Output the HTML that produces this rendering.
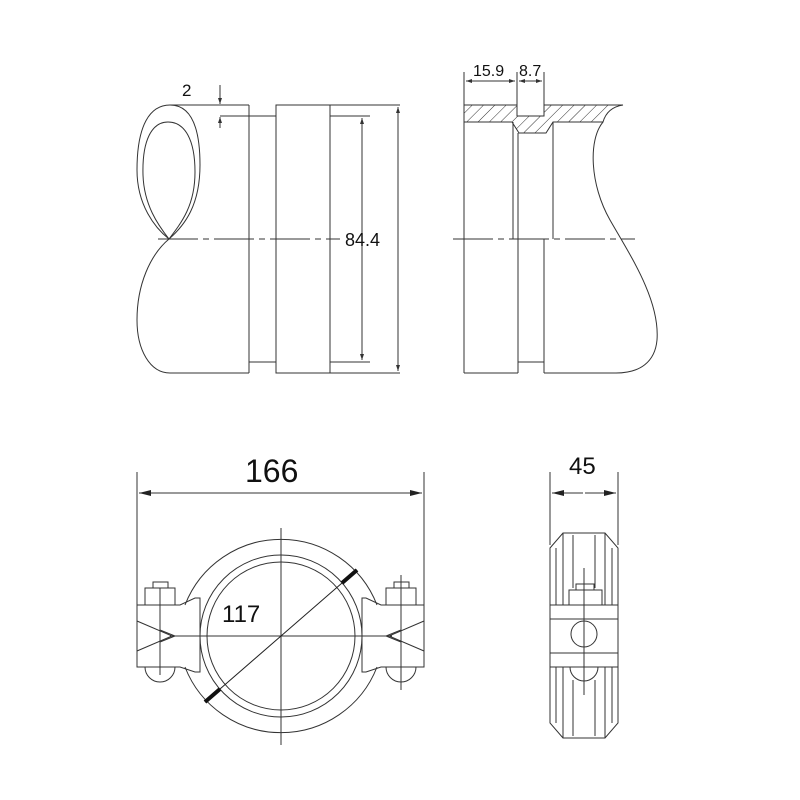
<!DOCTYPE html>
<html><head><meta charset="utf-8"><style>html,body{margin:0;padding:0;background:#fff}svg{display:block}</style></head>
<body>
<svg width="800" height="800" viewBox="0 0 800 800" xmlns="http://www.w3.org/2000/svg" fill="none" stroke="#333" stroke-width="1">
<defs>
<pattern id="h" width="8" height="8" patternUnits="userSpaceOnUse" patternTransform="rotate(45)"><line x1="0" y1="0" x2="0" y2="8" stroke="#333" stroke-width="1"/></pattern>
<marker id="a" markerWidth="12" markerHeight="6" refX="12" refY="3" orient="auto-start-reverse" markerUnits="userSpaceOnUse"><path d="M0,0 L12,3 L0,6 Z" fill="#222" stroke="none"/></marker>
<marker id="s" markerWidth="6" markerHeight="6" refX="6" refY="3" orient="auto-start-reverse" markerUnits="userSpaceOnUse"><path d="M0,1 L6,3 L0,5 Z" fill="#333" stroke="none"/></marker>
</defs>

<!-- TOP LEFT VIEW -->
<path d="M170,105 C150,105 137,125 137,170 C137,205 155,228 169,239 C185,225 200,205 200,165 C200,125 190,105 170,105 Z"/>
<path d="M168,122 C152,122 142,140 143,175 C144,205 158,225 169,239 C182,222 195,205 195,172 C195,140 185,122 168,122 Z"/>
<path d="M169,239 C150,255 137,285 137,320 C137,350 150,373 170,373"/>
<line x1="170" y1="105" x2="249" y2="105"/>
<line x1="170" y1="373" x2="249" y2="373"/>
<line x1="249" y1="105" x2="249" y2="373"/>
<line x1="220" y1="116" x2="276" y2="116"/>
<line x1="249" y1="362" x2="276" y2="362"/>
<rect x="276" y="105" width="54" height="268"/>
<line x1="330" y1="105" x2="400" y2="105"/>
<line x1="330" y1="373" x2="400" y2="373"/>
<line x1="330" y1="116" x2="370" y2="116"/>
<line x1="330" y1="362" x2="370" y2="362"/>
<line x1="398" y1="107" x2="398" y2="371" marker-start="url(#s)" marker-end="url(#s)"/>
<line x1="362" y1="118" x2="362" y2="360" marker-start="url(#s)" marker-end="url(#s)"/>
<line x1="220" y1="85" x2="220" y2="104" marker-end="url(#s)"/>
<line x1="220" y1="128" x2="220" y2="117" marker-end="url(#s)"/>
<line x1="158" y1="239" x2="340" y2="239" stroke-dasharray="40,5,6,5"/>
<text x="182" y="96" font-family="Liberation Sans, sans-serif" font-size="17" fill="#111" stroke="none">2</text>
<text x="345" y="246" font-family="Liberation Sans, sans-serif" font-size="18" fill="#111" stroke="none">84.4</text>

<!-- TOP RIGHT VIEW -->
<path d="M464,105 L517,105 L517,116 L544,116 L544,105 L623,105 C610,107 605,115 603,122 L553,122 L546,133 L519,133 L512,122 L464,122 Z" fill="url(#h)"/>
<line x1="464" y1="105" x2="464" y2="373"/>
<line x1="513" y1="122" x2="513" y2="239"/>
<line x1="518" y1="133" x2="518" y2="373"/>
<line x1="544" y1="239" x2="544" y2="373"/>
<line x1="553" y1="122" x2="553" y2="239"/>
<line x1="464" y1="373" x2="518" y2="373"/>
<line x1="518" y1="362" x2="544" y2="362"/>
<path d="M603,122 C588,140 590,185 610,220 C630,255 660,300 657,340 C655,362 640,373 616,373 L544,373"/>
<line x1="453" y1="239" x2="635" y2="239" stroke-dasharray="40,5,6,5"/>
<line x1="464" y1="72" x2="464" y2="105"/>
<line x1="517" y1="72" x2="517" y2="105"/>
<line x1="544" y1="72" x2="544" y2="105"/>
<line x1="466" y1="81" x2="515" y2="81" marker-start="url(#s)" marker-end="url(#s)"/>
<line x1="519" y1="81" x2="542" y2="81" marker-start="url(#s)" marker-end="url(#s)"/>
<text x="473" y="76" font-family="Liberation Sans, sans-serif" font-size="16" fill="#111" stroke="none">15.9</text>
<text x="519" y="76" font-family="Liberation Sans, sans-serif" font-size="16" fill="#111" stroke="none">8.7</text>

<!-- BOTTOM LEFT -->
<line x1="137" y1="472" x2="137" y2="665"/>
<line x1="424" y1="472" x2="424" y2="665"/>
<line x1="139" y1="493" x2="422" y2="493" marker-start="url(#a)" marker-end="url(#a)"/>
<text x="245" y="482" font-family="Liberation Sans, sans-serif" font-size="32" fill="#111" stroke="none">166</text>
<path d="M185,605 A103,103 0 0 1 377,605"/>
<path d="M185,667 A103,103 0 0 0 377,667"/>
<circle cx="281" cy="636" r="81"/>
<circle cx="281" cy="636" r="74"/>
<line x1="281" y1="528" x2="281" y2="745"/>
<line x1="170" y1="636" x2="392" y2="636"/>
<line x1="205" y1="702" x2="357" y2="570" stroke="#222"/>
<line x1="205" y1="702" x2="220" y2="689" stroke="#111" stroke-width="4"/>
<line x1="342" y1="583" x2="357" y2="570" stroke="#111" stroke-width="4"/>
<text x="222" y="622" font-family="Liberation Sans, sans-serif" font-size="24" fill="#111" stroke="none">117</text>
<!-- left lug -->
<path d="M137,605 L180,605 L195,598 L200,598 L200,672 L195,672 L180,667 L137,667 L137,651 L172,636 L137,621 Z"/>
<path d="M160,630 L175,636 L160,642"/>
<rect x="145" y="588" width="30" height="17"/>
<rect x="153" y="582" width="15" height="6"/>
<line x1="160" y1="588" x2="160" y2="605"/>
<path d="M145,667 A15,15 0 0 0 175,667"/>
<line x1="160" y1="595" x2="160" y2="675"/>
<!-- right lug -->
<path d="M424,605 L381,605 L366,598 L362,598 L362,672 L366,672 L381,667 L424,667 L424,651 L389,636 L424,621 Z"/>
<path d="M401,630 L386,636 L401,642"/>
<rect x="386" y="588" width="30" height="17"/>
<rect x="394" y="582" width="15" height="6"/>
<path d="M386,667 A15,15 0 0 0 416,667"/>
<line x1="401" y1="575" x2="401" y2="690"/>

<!-- BOTTOM RIGHT SIDE VIEW -->
<line x1="550" y1="472" x2="550" y2="545"/>
<line x1="618" y1="472" x2="618" y2="545"/>
<line x1="552" y1="493" x2="583" y2="493" marker-start="url(#a)"/>
<line x1="585" y1="493" x2="616" y2="493" marker-end="url(#a)"/>
<text x="569" y="474" font-family="Liberation Sans, sans-serif" font-size="24" fill="#111" stroke="none">45</text>
<path d="M550,548 L563,533 L605,533 L618,548 L618,723 L605,738 L563,738 L550,723 Z"/>
<line x1="556" y1="548" x2="556" y2="723"/>
<line x1="612" y1="548" x2="612" y2="723"/>
<line x1="563" y1="533" x2="563" y2="605"/>
<line x1="605" y1="533" x2="605" y2="605"/>
<line x1="563" y1="667" x2="563" y2="738"/>
<line x1="605" y1="667" x2="605" y2="738"/>
<line x1="573" y1="535" x2="573" y2="588"/>
<line x1="595" y1="535" x2="595" y2="588"/>
<line x1="573" y1="680" x2="573" y2="736"/>
<line x1="595" y1="680" x2="595" y2="736"/>
<rect x="550" y="605" width="68" height="62" fill="#fff"/>
<line x1="550" y1="619" x2="618" y2="619"/>
<line x1="550" y1="653" x2="618" y2="653"/>
<rect x="569" y="590" width="33" height="15"/>
<rect x="576" y="584" width="18" height="6"/>
<circle cx="584" cy="634" r="13" fill="#fff"/>
<path d="M570,667 A14,14 0 0 0 598,667"/>
<line x1="584" y1="568" x2="584" y2="695"/>
</svg>
</body></html>
